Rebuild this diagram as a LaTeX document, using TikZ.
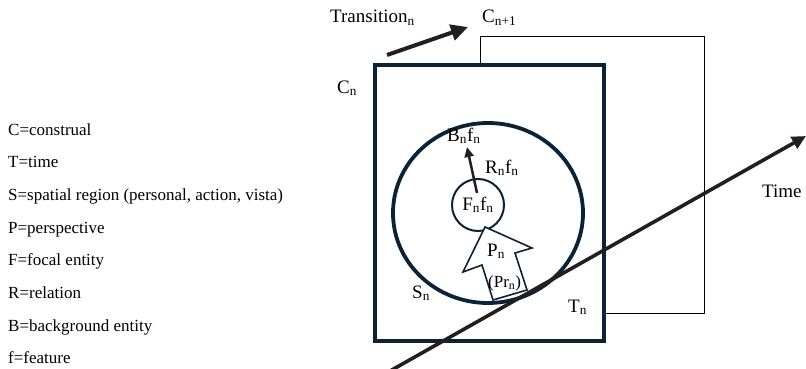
\documentclass[tikz,border=0pt]{standalone}
\usepackage{fontspec}
\setmainfont{Liberation Serif}
\newfontfamily\tnr{Liberation Serif}
\usetikzlibrary{arrows.meta,shapes.geometric}
\definecolor{navy}{HTML}{0C2336}
\definecolor{ink}{HTML}{231F20}
\newcommand\ssub[1]{\textsubscript{#1}}
\tikzset{
  lbl/.style={anchor=base west,inner sep=0pt,font=\tnr\fontsize{19}{22}\selectfont},
  leg/.style={anchor=base west,inner sep=0pt,font=\tnr\fontsize{17}{20}\selectfont},
  thickarrow/.style={draw=ink,line width=3.6pt,-{Triangle[length=14pt,width=13pt]}},
}
\begin{document}
\begin{tikzpicture}[x=1pt,y=-1pt]
\useasboundingbox (0,0) rectangle (806,369);
% next construal frame (thin)
\draw[line width=1pt,black] (480,37) rectangle (704,313);
% construal box
\node[draw=navy,line width=4pt,fill=white,minimum width=229pt,minimum height=276pt,inner sep=0pt] (box) at (489.5,203) {};
% spatial region
\node[ellipse,draw=navy,line width=3.8pt,minimum width=190pt,minimum height=180pt,inner sep=0pt] (S) at (488,213) {};
% focal entity
\node[circle,draw=navy,line width=2pt,minimum size=52pt,inner sep=0pt,font=\tnr\fontsize{19}{22}\selectfont] (F) at (478,205) {F\ssub{n}f\ssub{n}};
% perspective arrow
\draw[draw=navy,fill=white,line width=1.6pt,line join=miter]
  (485,227) -- (532,248) -- (515,253) -- (527,290) -- (493,300) -- (482,265) -- (463,272) -- cycle;
% labels
\node[lbl] (Bl) at (447,141) {B\ssub{n}f\ssub{n}};
\node[lbl] (Rl) at (485,173) {R\ssub{n}f\ssub{n}};
\node[lbl] (Pl) at (487,256) {P\ssub{n}};
\node[leg] (Prl) at (488,287) {(Pr\ssub{n})};
\node[lbl] (Sl) at (412,298) {S\ssub{n}};
\node[lbl] (Tl) at (568,312) {T\ssub{n}};
\node[lbl] (Cl) at (337,93) {C\ssub{n}};
\node[lbl] (Cnext) at (482,23) {C\ssub{n+1}};
\node[lbl] (Trl) at (330,23) {Transition\ssub{n}};
\node[lbl] (Timel) at (762,197) {Time};
% relation arrow
\coordinate (r0) at (477,193);
\coordinate (r1) at (467,147);
\draw[draw=ink,line width=2.5pt,-{Triangle[length=10pt,width=9pt]}] (r0) -- (r1);
% transition arrow
\coordinate (t0) at (387,55);
\coordinate (t1) at (468,27);
\draw[draw=ink,line width=4pt,-{Triangle[length=17pt,width=16pt]}] (t0) -- (t1);
% time arrow
\coordinate (a0) at (390,371);
\coordinate (a1) at (806,136);
\draw[thickarrow] (a0) -- (a1);
% legend
\node[leg] (L1) at (8,135) {C=construal};
\node[leg] (L2) at (8,167.7) {T=time};
\node[leg] (L3) at (8,200.4) {S=spatial region (personal, action, vista)};
\node[leg] (L4) at (8,233.1) {P=perspective};
\node[leg] (L5) at (8,265.8) {F=focal entity};
\node[leg] (L6) at (8,298.5) {R=relation};
\node[leg] (L7) at (8,331.2) {B=background entity};
\node[leg] (L8) at (8,363.9) {f=feature};
\end{tikzpicture}
\end{document}
